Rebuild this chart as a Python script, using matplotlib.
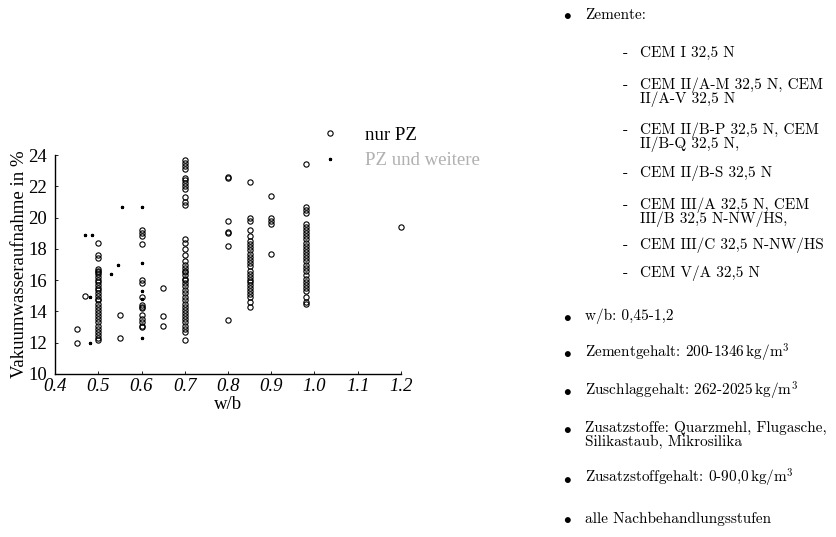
import numpy as np
import matplotlib
matplotlib.use("Agg")
from matplotlib import pyplot as plt

# w/b -> Vakuumwasseraufnahme, nur PZ
NUR_PZ = {
    0.45: [12.9, 12.0],
    0.47: [15.0],
    0.50: [18.4, 17.6, 17.4, 16.7, 16.6, 16.5, 16.4, 16.2, 16.0, 15.9, 15.7, 15.5,
           15.4, 15.2, 15.0, 14.8, 14.7, 14.5, 14.3, 14.1, 13.9, 13.7, 13.5, 13.3,
           13.1, 12.9, 12.7, 12.5, 12.3, 12.2],
    0.55: [13.8, 12.3],
    0.60: [19.2, 19.0, 18.8, 18.3, 16.0, 15.8, 14.9, 14.4, 14.3, 14.2, 13.8, 13.5,
           13.3, 13.1, 13.0],
    0.65: [15.5, 13.7, 13.1],
    0.70: [23.7, 23.5, 23.3, 23.1, 22.5, 22.4, 22.2, 22.0, 21.8, 21.3, 21.0, 20.8,
           18.6, 18.4, 18.0, 17.6, 17.2, 17.0, 16.8, 16.6, 16.5, 16.3, 16.1, 16.0,
           15.8, 15.6, 15.4, 15.2, 14.9, 14.7, 14.5, 14.3, 14.1, 13.9, 13.7, 13.5,
           13.3, 13.1, 12.9, 12.7, 12.2],
    0.80: [22.6, 22.5, 19.8, 19.1, 19.0, 18.2, 13.45],
    0.85: [22.3, 20.0, 19.8, 19.2, 18.8, 18.5, 18.3, 18.1, 17.9, 17.7, 17.5, 17.3,
           17.1, 16.9, 16.6, 16.4, 16.2, 16.0, 15.9, 15.7, 15.5, 15.3, 15.1, 14.9,
           14.6, 14.3],
    0.90: [21.4, 20.0, 19.8, 19.6, 17.7],
    0.98: [23.4, 20.7, 20.5, 20.3, 19.6, 19.4, 19.2, 19.0, 18.8, 18.6, 18.4, 18.2,
           18.0, 17.8, 17.6, 17.4, 17.2, 17.0, 16.8, 16.6, 16.3, 16.1, 15.9, 15.7,
           15.5, 15.3, 14.9, 14.6, 14.5],
    1.20: [19.4],
}

# PZ und weitere Zusatzstoffe
WEITERE_X = [0.47, 0.485, 0.48, 0.48, 0.53, 0.545, 0.555, 0.60, 0.60, 0.60, 0.60, 0.60]
WEITERE_Y = [18.9, 18.9, 14.9, 12.0, 16.4, 17.0, 20.7, 20.7, 17.1, 15.3, 14.8, 12.3]

LIST_LINES = [
    ("bullet", "Zemente:"),
    ("dash", "CEM I 32,5 N"),
    ("dash", "CEM II/A-M 32,5 N, CEM"),
    ("cont", "II/A-V 32,5 N"),
    ("dash", "CEM II/B-P 32,5 N, CEM"),
    ("cont", "II/B-Q 32,5 N,"),
    ("dash", "CEM II/B-S 32,5 N"),
    ("dash", "CEM III/A 32,5 N, CEM"),
    ("cont", "III/B 32,5 N-NW/HS,"),
    ("dash", "CEM III/C 32,5 N-NW/HS"),
    ("dash", "CEM V/A 32,5 N"),
    ("bullet", "w/b: 0,45-1,2"),
    ("bullet", "Zementgehalt: 200-1346$\\,$kg/m$^3$"),
    ("bullet", "Zuschlaggehalt: 262-2025$\\,$kg/m$^3$"),
    ("bullet", "Zusatzstoffe: Quarzmehl, Flugasche,"),
    ("bcont", "Silikastaub, Mikrosilika"),
    ("bullet", "Zusatzstoffgehalt: 0-90,0$\\,$kg/m$^3$"),
    ("bullet", "alle Nachbehandlungsstufen"),
]
LINE_Y_PX = [15, 53, 85, 99, 130, 144, 173, 205, 219, 245, 273, 316, 353, 391, 428, 442, 478, 519]

plt.rcParams["mathtext.fontset"] = "cm"

W, H = 836, 537
fig = plt.figure(figsize=(W / 100, H / 100), dpi=100)
ax = fig.add_axes([55 / W, 1 - 374 / H, (401 - 55) / W, (374 - 155) / H])

xs = [x for x, vals in NUR_PZ.items() for _ in vals]
ys = [v for vals in NUR_PZ.values() for v in vals]
ax.plot(xs, ys, linestyle="none", marker="o", markersize=3.8, markerfacecolor="none",
        markeredgecolor="black", markeredgewidth=0.8, label="nur PZ", clip_on=False)
ax.plot(WEITERE_X, WEITERE_Y, linestyle="none", marker="*", markersize=2.2,
        color="black", label="PZ und weitere", clip_on=False)

ax.set_xlim(0.4, 1.2)
ax.set_ylim(10, 24)
ax.set_xticks(np.arange(0.4, 1.21, 0.1))
ax.set_xticklabels([f"{t:.1f}" for t in np.arange(0.4, 1.21, 0.1)],
                   fontfamily="Liberation Serif", fontstyle="italic", fontsize=13.5)
ax.set_yticks(range(10, 25, 2))
ax.set_yticklabels([str(t) for t in range(10, 25, 2)], fontfamily="Liberation Serif", fontsize=13.5)
ax.tick_params(axis="x", direction="in", length=2, width=0.6, pad=3)
ax.tick_params(axis="y", direction="in", length=2, width=0.6, pad=6)
ax.spines["top"].set_visible(False)
ax.spines["right"].set_visible(False)
ax.spines["left"].set_linewidth(1.0)
ax.spines["bottom"].set_linewidth(1.0)
ax.set_xlabel("w/b", fontfamily="Liberation Serif", fontsize=13.5, labelpad=0.5)
ax.set_ylabel("Vakuumwasseraufnahme in %", fontfamily="Liberation Serif", fontsize=13.5, labelpad=0)

leg = ax.legend(loc="center left", bbox_to_anchor=(311 / W, 1 - 148 / H),
                bbox_transform=fig.transFigure, frameon=False, borderpad=0,
                handlelength=1.0, handletextpad=1.4, labelspacing=0.45,
                prop={"family": "Liberation Serif", "size": 13.5})
leg.get_texts()[1].set_color("#b0b0b0")

for (kind, text), py in zip(LIST_LINES, LINE_Y_PX):
    y = 1 - py / H
    if kind == "bullet":
        fig.text(563 / W, y, "$\\bullet$", fontsize=11, va="center", ha="left")
    if kind == "dash":
        fig.text(623 / W, y, "-", family="cmr10", fontsize=11, va="center", ha="left")
    x0 = 585 if kind in ("bullet", "bcont") else 640
    fig.text(x0 / W, y, text, family="cmr10", fontsize=11, va="center", ha="left")

fig.savefig("out.png", dpi=100)
